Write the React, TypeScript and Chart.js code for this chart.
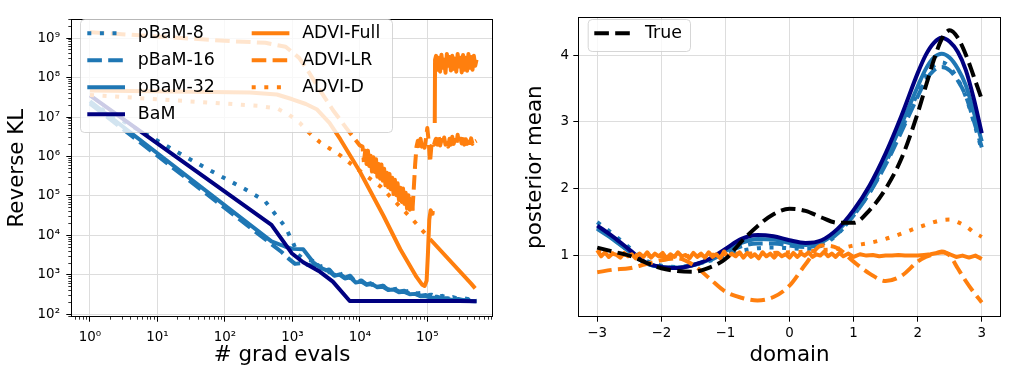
import React, { useEffect, useRef } from 'react';
import { Chart, registerables } from 'chart.js';

Chart.register(...registerables);

const FONT = "'DejaVu Sans', 'Liberation Sans', sans-serif";
Chart.defaults.font.family = FONT;

const BLUE = '#1f77b4';
const ORANGE = '#ff7f0e';
const NAVY = '#000080';
const BLACK = '#000000';
const DASHED = [14.6, 6.3];
const DOTTED = [4, 8.6];
const SOLID: number[] = [];

// ---------------- Left panel: reverse KL vs # grad evals ----------------
const evalTickValues = [1, 10, 100, 1000, 10000, 100000];
const evalTickLabels = ['10⁰', '10¹', '10²', '10³', '10⁴', '10⁵'];
const klTickValues = [1e2, 1e3, 1e4, 1e5, 1e6, 1e7, 1e8, 1e9];
const klTickLabels = ['10²', '10³', '10⁴', '10⁵', '10⁶', '10⁷', '10⁸', '10⁹'];

const trailEvals = [2000, 2400, 2900, 3500, 4200, 5000, 6000, 7200, 8700, 10500, 12600, 15100, 18200, 21900, 26300, 31600, 38000, 45700, 55000, 66000, 79400, 95500, 115000, 138000, 166000, 200000, 240000, 288000, 347000, 417000, 500000, 537000];
const bandEvals = [134900, 141300, 147900, 154900, 162200, 169800, 177800, 186200, 195000, 204200, 213800, 223900, 234400, 245500, 257000, 269200, 281800, 295100, 309000, 323600, 338800, 354800, 371500, 389000, 407400, 426600, 446700, 467700, 489800, 512900, 537000];

const pbam8Trail = [2290, 1585, 1698, 1175, 1288, 1000, 1148, 832, 851, 661, 741, 562, 617, 501, 537, 437, 457, 372, 398, 339, 347, 302, 316, 275, 295, 263, 275, 251, 257, 240, 245, 240];
const pbam16Trail = [1738, 1778, 1288, 1380, 977, 1072, 851, 955, 661, 724, 575, 631, 501, 537, 427, 457, 380, 398, 331, 347, 295, 309, 275, 282, 257, 257, 240, 245, 229, 234, 224, 224];
const pbam32Trail = [1230, 955, 1023, 813, 871, 646, 676, 562, 589, 490, 501, 417, 427, 363, 372, 324, 331, 288, 288, 263, 263, 245, 245, 229, 229, 224, 219, 214, 214];

const pbam8Evals = [1, 13, 36, 79, 200, 389, 550, 776, 1023, 1202, 1514, ...trailEvals];
const pbam8KL = [2.34e7, 1.95e6, 7.24e5, 3.47e5, 1.48e5, 7.59e4, 3.55e4, 1.7e4, 6610, 3310, 2400, ...pbam8Trail];

const pbam16Evals = [1, 490, 692, 871, 1096, 1413, 1660, ...trailEvals];
const pbam16KL = [2.19e7, 6030, 3800, 2630, 1905, 1995, 1820, ...pbam16Trail];

const pbam32Evals = [1, 490, 776, 1000, 1445, 2040, 2630, ...trailEvals.slice(3)];
const pbam32KL = [2.51e7, 7080, 5250, 4570, 4470, 2090, 1510, ...pbam32Trail];

const bamEvals = [1, 490, 977, 1445, 2570, 3980, 7080, 10000, 30000, 100000, 300000, 537000];
const bamKL = [3.55e7, 1.86e4, 3550, 2090, 1200, 676, 219, 218, 219, 217, 218, 216];

const fullBandKL = [3.55e8, 1.58e8, 3.16e8, 1.41e8, 3.8e8, 1.78e8, 2.82e8, 1.32e8, 3.98e8, 2.0e8, 3.31e8, 1.51e8, 3.55e8, 1.66e8, 3.02e8, 1.41e8, 3.98e8, 1.91e8, 3.16e8, 1.35e8, 3.72e8, 1.58e8, 3.16e8, 1.48e8, 3.98e8, 1.78e8, 3.31e8, 1.58e8, 3.55e8, 2.0e8, 2.82e8];
const advFullEvals = [1, 31.6, 234, 589, 1000, 1585, 2290, 3550, 5130, 10000, 22400, 39800, 69200, 83200, 91200, 97700, 102000, 107000, 112000, 117500, 120000, 125000, 129000, 130300, ...bandEvals];
const advFullKL = [4.68e7, 4.37e7, 4.17e7, 3.72e7, 2.82e7, 2.14e7, 1.58e7, 7.08e6, 2.75e6, 4.17e5, 3.16e4, 4470, 891, 575, 525, 708, 3160, 2.51e4, 4.37e4, 3.55e4, 4.17e4, null, 7.08e6, 2.82e8, ...fullBandKL];

const lrBandKL = [2.82e6, 2.0e6, 3.16e6, 1.91e6, 2.63e6, 2.09e6, 3.02e6, 2.0e6, 2.51e6, 1.78e6, 2.82e6, 2.0e6, 3.16e6, 2.09e6, 2.63e6, 1.91e6, 3.55e6, 2.0e6, 2.82e6, 2.14e6, 3.16e6, 2.0e6, 2.75e6, 2.09e6, 3.02e6, 2.19e6, 2.88e6, 2.09e6, 2.63e6, 2.4e6, 2.51e6];
const advLREvals = [
  1, 10, 100, 398, 794, 1259, 1778, 2512, 3981, 6310, 10000,
  10965, 11482, 12023, 12589, 13183, 13804, 14454, 15136, 15849, 16596,
  17378, 18197, 19055, 19953, 20893, 21878, 22909, 23988, 25119, 26303,
  27542, 28840, 30200, 31623, 33113, 34674, 36308, 38019, 39811, 41687,
  43652, 45709, 47863, 50119, 52481, 54954, 57544, 60256,
  63096, 66069, 69183, 72444, 75858, 79433, 83176, 87096, 91201, 95499,
  100000, 104713, 109648, 114815, 120226, 125893, 131826,
  ...bandEvals,
];
const advLRKL = [
  1.41e9, 1.1e9, 8.51e8, 7.59e8, 6.03e8, 3.16e8, 1.32e8, 5.01e7, 1.51e7, 5.25e6, 1.91e6,
  1.78e6, 7.24e5, 1.41e6, 6.46e5, 1.41e6, 5.75e5, 1.05e6, 4.17e5, 9.55e5, 4.07e5,
  8.51e5, 3.09e5, 6.46e5, 2.75e5, 6.31e5, 2.45e5, 4.9e5, 1.86e5, 3.89e5, 1.66e5,
  3.63e5, 1.48e5, 2.88e5, 1.12e5, 2.57e5, 1.05e5, 2.09e5, 7.94e4, 1.62e5, 7.08e4,
  1.55e5, 6.31e4, 1.2e5, 4.79e4, 1.05e5, 4.47e4, 8.32e4, 4.27e4,
  1.58e5, 6.31e5, 1.78e6, 2.51e6, 1.58e6, 2.82e6, 1.78e6, 2.51e6, 1.66e6, 2.82e6,
  5.25e6, 2.51e6, 7.08e5, 1.78e6, 2.4e6, 2.0e6, 2.63e6,
  ...lrBandKL,
];

const advDEvals = [1, 10, 100, 316, 589, 891, 1288, 1778, 2570, 5130, 11750, 19950, 61660, 109600, 446700, 512900];
const advDKL = [3.63e7, 2.82e7, 2.19e7, 1.91e7, 1.66e7, 1.15e7, 7.08e6, 3.98e6, 2.29e6, 1.07e6, 3.47e5, 1.78e5, 2.45e4, 8130, 603, 457];

// ---------------- Right panel: posterior mean vs domain ----------------
const domainTickValues = [-3, -2, -1, 0, 1, 2, 3];
const domainTickLabels = ['−3', '−2', '−1', '0', '1', '2', '3'];
const meanTickValues = [1, 2, 3, 4];
const meanTickLabels = ['1', '2', '3', '4'];

const domain = [-3, -2.75, -2.5, -2.25, -2, -1.75, -1.5, -1.25, -1, -0.75, -0.5, -0.25, 0, 0.25, 0.5, 0.75, 1, 1.25, 1.5, 1.75, 2, 2.125, 2.25, 2.375, 2.5, 2.625, 2.75, 2.875, 3];
const trueMean = [1.12, 1.06, 1.0, 0.9, 0.81, 0.77, 0.76, 0.82, 0.95, 1.21, 1.44, 1.62, 1.7, 1.67, 1.57, 1.49, 1.49, 1.68, 2.0, 2.46, 3.13, 3.53, 3.92, 4.24, 4.37, 4.26, 4.01, 3.68, 3.34];
const bamMean = [1.45, 1.28, 1.09, 0.9, 0.83, 0.815, 0.86, 0.95, 1.1, 1.25, 1.31, 1.29, 1.23, 1.19, 1.23, 1.4, 1.68, 2.05, 2.53, 3.1, 3.73, 4.0, 4.18, 4.26, 4.2, 4.05, 3.78, 3.35, 2.83];
const pbam32Mean = [1.4, 1.24, 1.06, 0.89, 0.83, 0.82, 0.86, 0.94, 1.07, 1.19, 1.25, 1.24, 1.19, 1.16, 1.2, 1.37, 1.64, 1.99, 2.44, 2.97, 3.53, 3.79, 3.96, 4.02, 3.96, 3.8, 3.55, 3.15, 2.71];
const pbam16Mean = [1.42, 1.25, 1.06, 0.89, 0.83, 0.82, 0.86, 0.93, 1.04, 1.14, 1.18, 1.18, 1.15, 1.13, 1.17, 1.33, 1.6, 1.94, 2.36, 2.86, 3.38, 3.62, 3.77, 3.82, 3.77, 3.62, 3.39, 3.02, 2.62];
const pbam8Mean = [1.5, 1.32, 1.12, 0.93, 0.85, 0.83, 0.86, 0.92, 1.0, 1.07, 1.11, 1.12, 1.11, 1.1, 1.15, 1.32, 1.6, 1.95, 2.39, 2.9, 3.43, 3.68, 3.84, 3.89, 3.82, 3.64, 3.38, 3.0, 2.58];
const advLRMean = [0.75, 0.79, 0.81, 0.87, 0.93, 0.96, 0.86, 0.66, 0.46, 0.37, 0.33, 0.38, 0.55, 0.87, 1.15, 1.11, 0.91, 0.73, 0.62, 0.7, 0.91, 0.98, 1.02, 1.06, 1.0, 0.81, 0.62, 0.45, 0.3];
const advDMean = [1.06, 1.03, 1.01, 1.0, 0.99, 0.99, 1.0, 1.01, 1.02, 1.03, 1.03, 1.04, 1.05, 1.06, 1.08, 1.1, 1.15, 1.19, 1.25, 1.33, 1.42, 1.46, 1.5, 1.53, 1.54, 1.5, 1.44, 1.35, 1.28];

const fullDomain = [-3.0, -2.94, -2.88, -2.82, -2.76, -2.7, -2.64, -2.58, -2.52, -2.46, -2.4, -2.34, -2.28, -2.22, -2.16, -2.1, -2.04, -1.98, -1.92, -1.86, -1.8, -1.74, -1.68, -1.62, -1.56, -1.5, -1.44, -1.38, -1.32, -1.26, -1.2, -1.14, -1.08, -1.02, -0.96, -0.9, -0.84, -0.78, -0.72, -0.66, -0.6, -0.54, -0.48, -0.42, -0.36, -0.3, -0.24, -0.18, -0.12, -0.06, 0.0, 0.06, 0.12, 0.18, 0.24, 0.3, 0.36, 0.42, 0.48, 0.54, 0.6, 0.66, 0.72, 0.78, 0.84, 0.92, 1.0, 1.1, 1.2, 1.3, 1.4, 1.5, 1.6, 1.7, 1.8, 1.9, 2.0, 2.1, 2.2, 2.3, 2.4, 2.5, 2.6, 2.7, 2.8, 2.9, 3.0];
const advFullMean = [
  1.08, 0.99, 1.05, 0.98, 1.03, 1.01, 0.97, 1.04, 0.99, 1.02,
  0.96, 1.03, 0.98, 1.05, 0.97, 1.03, 0.99, 1.04, 0.96, 1.02,
  0.98, 1.05, 0.99, 1.01, 0.96, 1.04, 0.98, 1.03, 0.97, 1.05,
  0.98, 1.02, 0.96, 1.06, 0.98, 1.03, 0.99, 1.05, 0.97, 1.04,
  0.98, 1.02, 0.96, 1.05, 0.99, 1.03, 0.97, 1.04, 0.99, 1.02,
  0.97, 1.04, 0.98, 1.03, 1.0, 1.05, 0.98, 1.02, 1.0, 1.06,
  0.99, 1.03, 0.98, 1.04, 0.99,
  1.03, 0.98, 1.02, 1.0, 1.01, 0.99, 1.0, 1.0, 1.01, 1.0, 1.0, 1.0, 1.01, 1.02, 1.04, 1.05, 1.02, 0.98, 1.0, 0.97, 1.0, 0.95,
];

type Series = {
  label: string;
  x: number[];
  y: (number | null)[];
  color: string;
  dash: number[];
  smooth?: boolean;
  solidRange?: [number, number];
};

const leftSeries: Series[] = [
  { label: 'pBaM-8', x: pbam8Evals, y: pbam8KL, color: BLUE, dash: DOTTED },
  { label: 'pBaM-16', x: pbam16Evals, y: pbam16KL, color: BLUE, dash: DASHED },
  { label: 'pBaM-32', x: pbam32Evals, y: pbam32KL, color: BLUE, dash: SOLID },
  { label: 'BaM', x: bamEvals, y: bamKL, color: NAVY, dash: SOLID },
  { label: 'ADVI-Full', x: advFullEvals, y: advFullKL, color: ORANGE, dash: SOLID },
  { label: 'ADVI-LR', x: advLREvals, y: advLRKL, color: ORANGE, dash: DASHED, solidRange: [11400, 60000] },
  { label: 'ADVI-D', x: advDEvals, y: advDKL, color: ORANGE, dash: DOTTED, solidRange: [100000, 1e7] },
];

const rightSeries: Series[] = [
  { label: 'pBaM-8', x: domain, y: pbam8Mean, color: BLUE, dash: DOTTED, smooth: true },
  { label: 'pBaM-16', x: domain, y: pbam16Mean, color: BLUE, dash: DASHED, smooth: true },
  { label: 'pBaM-32', x: domain, y: pbam32Mean, color: BLUE, dash: SOLID, smooth: true },
  { label: 'BaM', x: domain, y: bamMean, color: NAVY, dash: SOLID, smooth: true },
  { label: 'ADVI-Full', x: fullDomain, y: advFullMean, color: ORANGE, dash: SOLID },
  { label: 'ADVI-LR', x: domain, y: advLRMean, color: ORANGE, dash: DASHED, smooth: true },
  { label: 'ADVI-D', x: domain, y: advDMean, color: ORANGE, dash: DOTTED, smooth: true },
  { label: 'True', x: domain, y: trueMean, color: BLACK, dash: DASHED, smooth: true },
];

function makeDatasets(series: Series[]) {
  const n = series.length;
  return series.map((s, i) => {
    const ds: any = {
      label: s.label,
      data: s.x.map((x, j) => ({ x, y: s.y[j] })),
      borderColor: s.color,
      backgroundColor: s.color,
      borderWidth: 4,
      borderDash: s.dash,
      borderCapStyle: 'butt',
      borderJoinStyle: 'round',
      pointRadius: 0,
      pointHoverRadius: 0,
      fill: false,
      tension: 0,
      cubicInterpolationMode: s.smooth ? 'monotone' : 'default',
      spanGaps: false,
      order: n - i,
    };
    if (s.solidRange) {
      const [from, to] = s.solidRange;
      ds.segment = {
        borderDash: (ctx: any) => (ctx.p0.parsed.x >= from && ctx.p0.parsed.x < to ? [] : s.dash),
      };
    }
    return ds;
  });
}

type LegendItem = { index: number; hx: number; y: number };
type LegendSpec = { x: number; y: number; w: number; h: number; handleLen: number; textOffset: number; fontSize: number; items: LegendItem[] };

function minorLog(min: number, max: number) {
  const out: number[] = [];
  for (let e = Math.floor(Math.log10(min)); e <= Math.ceil(Math.log10(max)); e++) {
    for (let k = 2; k <= 9; k++) {
      const v = k * Math.pow(10, e);
      if (v >= min && v <= max) out.push(v);
    }
  }
  return out;
}

function makeDecor(cfg: { xMajor: number[]; yMajor: number[]; xMinor: number[]; yMinor: number[]; legend: LegendSpec }) {
  return {
    id: 'decor',
    afterDatasetsDraw(chart: any) {
      const ctx = chart.ctx as CanvasRenderingContext2D;
      const a = chart.chartArea;
      const xs = chart.scales.x;
      const ys = chart.scales.y;
      ctx.save();
      ctx.strokeStyle = '#000';
      const bottom = Math.round(a.bottom);
      const left = Math.round(a.left);
      const tickX = (v: number, len: number, w: number) => {
        const p = xs.getPixelForValue(v);
        if (p < a.left - 0.5 || p > a.right + 0.5) return;
        const px = Math.floor(p) + 0.5;
        ctx.lineWidth = w;
        ctx.beginPath();
        ctx.moveTo(px, bottom);
        ctx.lineTo(px, bottom + len);
        ctx.stroke();
      };
      const tickY = (v: number, len: number, w: number) => {
        const p = ys.getPixelForValue(v);
        if (p < a.top - 0.5 || p > a.bottom + 0.5) return;
        const py = Math.floor(p) + 0.5;
        ctx.lineWidth = w;
        ctx.beginPath();
        ctx.moveTo(left, py);
        ctx.lineTo(left - len, py);
        ctx.stroke();
      };
      cfg.xMinor.forEach((v) => tickX(v, 2.7, 0.8));
      cfg.yMinor.forEach((v) => tickY(v, 2.7, 0.8));
      cfg.xMajor.forEach((v) => tickX(v, 4.7, 1));
      cfg.yMajor.forEach((v) => tickY(v, 4.7, 1));
      // frame
      ctx.lineWidth = 1;
      ctx.strokeRect(Math.round(a.left) + 0.5, Math.round(a.top) + 0.5, Math.round(a.right) - Math.round(a.left) - 1, Math.round(a.bottom) - Math.round(a.top) - 1);
      // legend
      const L = cfg.legend;
      ctx.beginPath();
      (ctx as any).roundRect(L.x + 0.5, L.y + 0.5, L.w, L.h, 4);
      ctx.fillStyle = 'rgba(255,255,255,0.8)';
      ctx.fill();
      ctx.strokeStyle = 'rgba(204,204,204,0.8)';
      ctx.lineWidth = 1;
      ctx.stroke();
      L.items.forEach((it) => {
        const ds = chart.data.datasets[it.index];
        ctx.beginPath();
        ctx.setLineDash(ds.borderDash || []);
        ctx.lineWidth = 4;
        ctx.lineCap = 'butt';
        ctx.strokeStyle = ds.borderColor;
        ctx.moveTo(it.hx, it.y);
        ctx.lineTo(it.hx + L.handleLen, it.y);
        ctx.stroke();
        ctx.setLineDash([]);
        ctx.fillStyle = '#000';
        ctx.font = `${L.fontSize}px ${FONT}`;
        ctx.textBaseline = 'middle';
        ctx.textAlign = 'left';
        ctx.fillText(ds.label, it.hx + L.textOffset, it.y + 0.5);
      });
      ctx.restore();
    },
  };
}

const TICK_FONT = { family: FONT, size: 13.4 };
const TITLE_FONT = { family: FONT, size: 21.4 };
const GRID = '#dddddd';

function axis(opts: {
  type: 'linear' | 'logarithmic';
  min: number;
  max: number;
  tickValues: number[];
  tickLabels: string[];
  title: string;
  size: number;
  horizontal: boolean;
  padding: number;
  titlePadTop: number;
}) {
  return {
    type: opts.type,
    min: opts.min,
    max: opts.max,
    bounds: 'data',
    position: opts.horizontal ? 'bottom' : 'left',
    afterBuildTicks: (s: any) => {
      s.ticks = opts.tickValues.map((v) => ({ value: v }));
    },
    afterFit: (s: any) => {
      if (opts.horizontal) s.height = opts.size;
      else s.width = opts.size;
    },
    ticks: {
      autoSkip: false,
      maxRotation: 0,
      minRotation: 0,
      font: TICK_FONT,
      color: '#000',
      padding: opts.padding,
      callback: (_v: any, i: number) => opts.tickLabels[i],
    },
    grid: { color: GRID, lineWidth: 1, drawTicks: false },
    border: { display: false },
    title: {
      display: true,
      text: opts.title,
      font: TITLE_FONT,
      color: '#000',
      padding: { top: opts.titlePadTop, bottom: 4 },
    },
  };
}

function leftConfig(): any {
  const xMin = 0.523;
  const xMax = 941900;
  const yMin = 84.4;
  const yMax = 3.04e9;
  return {
    type: 'line',
    data: { datasets: makeDatasets(leftSeries) },
    options: {
      responsive: false,
      animation: false,
      events: [],
      layout: { padding: { left: 0, right: 12, top: 9.3, bottom: 8.7 } },
      plugins: { legend: { display: false }, tooltip: { enabled: false }, title: { display: false } },
      scales: {
        x: axis({ type: 'logarithmic', min: xMin, max: xMax, tickValues: evalTickValues, tickLabels: evalTickLabels, title: '# grad evals', size: 55, horizontal: true, padding: 12, titlePadTop: 4 }),
        y: axis({ type: 'logarithmic', min: yMin, max: yMax, tickValues: klTickValues, tickLabels: klTickLabels, title: 'Reverse KL', size: 71, horizontal: false, padding: 11, titlePadTop: 5 }),
      },
    },
    plugins: [
      makeDecor({
        xMajor: evalTickValues,
        yMajor: klTickValues,
        xMinor: minorLog(xMin, xMax),
        yMinor: minorLog(yMin, yMax),
        legend: {
          x: 80, y: 19, w: 312, h: 113, handleLen: 37.7, textOffset: 50.5, fontSize: 17.4,
          items: [
            { index: 0, hx: 87.3, y: 33.3 },
            { index: 1, hx: 87.3, y: 60.3 },
            { index: 2, hx: 87.3, y: 87.3 },
            { index: 3, hx: 87.3, y: 114.3 },
            { index: 4, hx: 251.7, y: 33.3 },
            { index: 5, hx: 251.7, y: 60.3 },
            { index: 6, hx: 251.7, y: 87.3 },
          ],
        },
      }),
    ],
  };
}

function rightConfig(): any {
  return {
    type: 'line',
    data: { datasets: makeDatasets(rightSeries) },
    options: {
      responsive: false,
      animation: false,
      events: [],
      layout: { padding: { left: 13.8, right: 9, top: 9.3, bottom: 8.7 } },
      plugins: { legend: { display: false }, tooltip: { enabled: false }, title: { display: false } },
      scales: {
        x: axis({ type: 'linear', min: -3.3, max: 3.3, tickValues: domainTickValues, tickLabels: domainTickLabels, title: 'domain', size: 55, horizontal: true, padding: 8, titlePadTop: 4 }),
        y: axis({ type: 'linear', min: 0.077, max: 4.569, tickValues: meanTickValues, tickLabels: meanTickLabels, title: 'posterior mean', size: 59.2, horizontal: false, padding: 9, titlePadTop: 4 }),
      },
    },
    plugins: [
      makeDecor({
        xMajor: domainTickValues,
        yMajor: meanTickValues,
        xMinor: [],
        yMinor: [],
        legend: {
          x: 82.7, y: 19, w: 102.3, h: 32, handleLen: 35.7, textOffset: 50.7, fontSize: 17.4,
          items: [{ index: 7, hx: 89.3, y: 33.3 }],
        },
      }),
    ],
  };
}

export default function App() {
  const leftRef = useRef<HTMLCanvasElement>(null);
  const rightRef = useRef<HTMLCanvasElement>(null);
  useEffect(() => {
    const c1 = new Chart(leftRef.current as HTMLCanvasElement, leftConfig());
    const c2 = new Chart(rightRef.current as HTMLCanvasElement, rightConfig());
    return () => {
      c1.destroy();
      c2.destroy();
    };
  }, []);
  return (
    <div style={{ position: 'absolute', left: 0, top: 0, width: 1010, height: 381, background: '#ffffff' }}>
      <canvas ref={leftRef} width={505} height={381} style={{ position: 'absolute', left: 0, top: 0, width: 505, height: 381 }} />
      <canvas ref={rightRef} width={505} height={381} style={{ position: 'absolute', left: 505, top: 0, width: 505, height: 381 }} />
    </div>
  );
}
